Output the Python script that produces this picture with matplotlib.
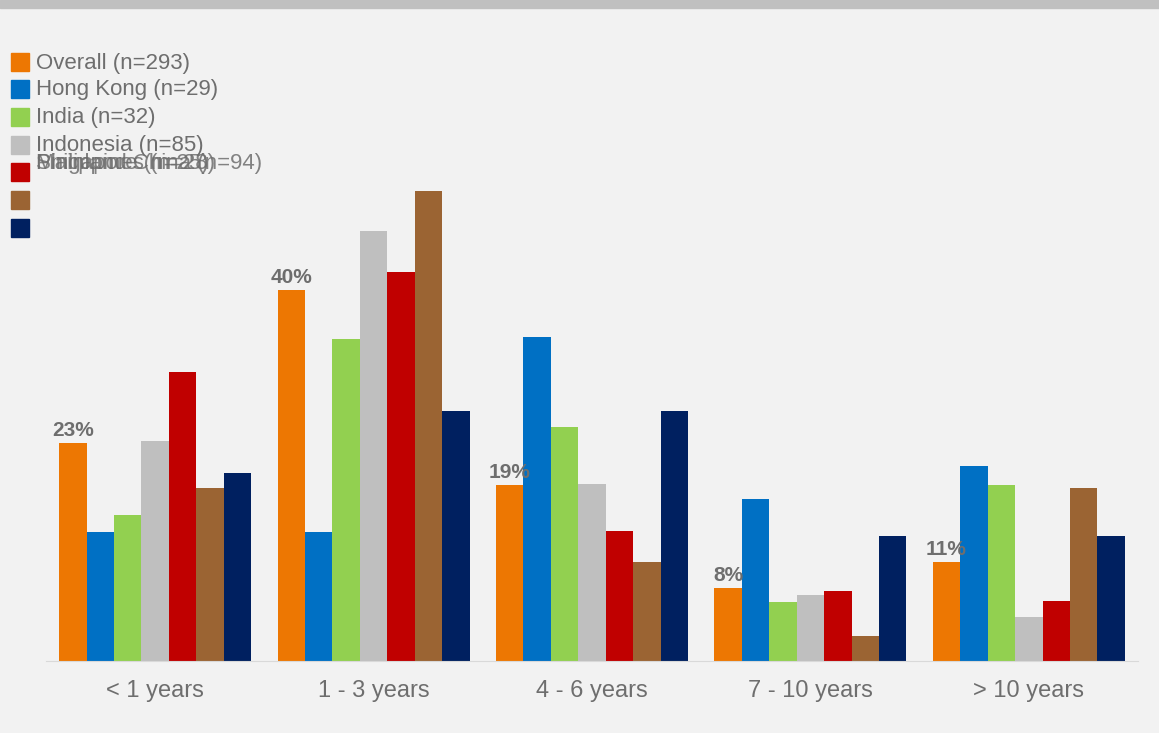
import matplotlib
matplotlib.use("Agg")
import matplotlib.pyplot as plt
from matplotlib.patches import Rectangle
import numpy as np

plt.rcParams['font.family'] = ['Liberation Sans', 'DejaVu Sans']

categories = ['< 1 years', '1 - 3 years', '4 - 6 years', '7 - 10 years', '> 10 years']
series = ['Overall (n=293)', 'Hong Kong (n=29)', 'India (n=32)', 'Indonesia (n=85)',
          'Philippines (n=28)', 'Singapore (n=25)', 'Mainland China (n=94)']
colors = ['#ed7702', '#0070c4', '#92d050', '#bfbfbf', '#c00000', '#9b6433', '#002060']

overall = [23.5, 40.0, 19.0, 7.9, 10.7]
hong_kong = [13.9, 13.9, 35.0, 17.5, 21.0]
india = [15.7, 34.7, 25.2, 6.4, 19.0]
indonesia = [23.7, 46.4, 19.1, 7.1, 4.7]
philippines = [31.2, 42.0, 14.0, 7.6, 6.5]
singapore = [18.7, 50.7, 10.7, 2.7, 18.7]
china = [20.3, 27.0, 27.0, 13.5, 13.5]
values = [overall, hong_kong, india, indonesia, philippines, singapore, china]
overall_labels = ['23%', '40%', '19%', '8%', '11%']

fig = plt.figure(figsize=(11.59, 7.33), dpi=100)
fig.patch.set_facecolor('#f2f2f2')
# grey band on top
fig.patches.append(Rectangle((0, 1 - 8 / 733), 1, 8 / 733, transform=fig.transFigure,
                             color='#c0c0c0', zorder=0))

ax = fig.add_axes([46 / 1159, 1 - 661 / 733, (1138 - 46) / 1159, (661 - 150) / 733])
ax.set_facecolor('#f2f2f2')

x = np.arange(len(categories))
n = len(series)
w = 0.88 / n
for i, (vals, c) in enumerate(zip(values, colors)):
    ax.bar(x - 0.44 + w * (i + 0.5), vals, width=w, color=c, zorder=2)

for xi, v, lab in zip(x, overall, overall_labels):
    ax.text(xi - 0.44 + w * 0.5, v + 0.3, lab, ha='center', va='bottom',
            fontsize=15, fontweight='bold', color='#6e6e6e', zorder=3)

ax.set_xlim(-0.5, len(categories) - 0.5)
ax.set_ylim(0, (661 - 150) / 9.27)
ax.set_xticks(x)
ax.set_xticklabels(categories, fontsize=17, color='#6e6e6e')
ax.tick_params(axis='x', length=0, pad=14)
ax.set_yticks([])
for s in ['top', 'right', 'left']:
    ax.spines[s].set_visible(False)
ax.spines['bottom'].set_color('#d9d9d9')

# legend drawn by hand (labels of the last three overlap like the original)
sq_y = [62, 89, 117, 145, 172, 200, 228]
txt_y = [63, 90, 117, 146, 163, 163, 163]
for i, (lab, c) in enumerate(zip(series, colors)):
    fig.patches.append(Rectangle((11 / 1159, 1 - (sq_y[i] + 9) / 733), 18 / 1159, 18 / 733,
                                 transform=fig.transFigure, color=c))
    fig.text(36 / 1159, 1 - txt_y[i] / 733, lab, ha='left', va='center',
             fontsize=16, color='#6e6e6e', alpha=0.85 if i >= 4 else 1)

fig.savefig('out.png', dpi=100, facecolor=fig.get_facecolor())
